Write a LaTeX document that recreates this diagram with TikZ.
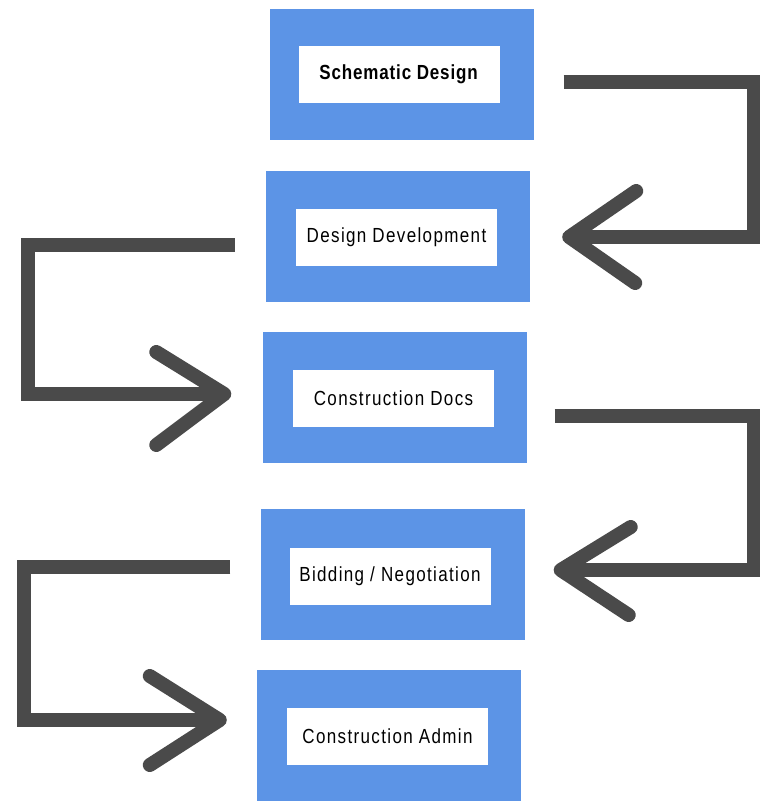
\documentclass[tikz,border=0pt]{standalone}
\usepackage{fontspec}
\setmainfont{Liberation Sans}
\usetikzlibrary{calc}
\definecolor{boxblue}{RGB}{92,148,230}
\definecolor{arrowgray}{RGB}{74,74,74}
\newcommand{\spaced}{\addfontfeatures{LetterSpace=8}}
\newcommand{\spacedb}{\addfontfeatures{LetterSpace=5}}
\begin{document}
\begin{tikzpicture}[x=1pt,y=-1pt,
  outerbox/.style={fill=boxblue,draw=none,minimum width=264pt,minimum height=131pt,inner sep=0pt},
  innerbox/.style={fill=white,draw=none,minimum width=201pt,minimum height=57pt,inner sep=0pt,
    font=\fontsize{17}{20}\selectfont},
  flowline/.style={draw=arrowgray,line width=14pt,line join=miter},
  chevron/.style={draw=arrowgray,line width=14pt,line cap=round,line join=round}]
\fill[white] (0,0) rectangle (760,801);
\useasboundingbox (0,0) rectangle (760,801);
% boxes
\node[outerbox] (o1) at (401.5,74) {};
\node[innerbox] (b1) at (399,74) {\scalebox{1}[1.2]{\spacedb\textbf{Schematic Design}}};
\node[outerbox] (o2) at (398,236) {};
\node[innerbox] (b2) at (396.5,237.5) {\scalebox{1}[1.2]{\spaced Design Development}};
\node[outerbox] (o3) at (394.5,397.5) {};
\node[innerbox] (b3) at (393.5,398.5) {\scalebox{1}[1.2]{\spaced Construction Docs}};
\node[outerbox] (o4) at (392.5,574) {};
\node[innerbox] (b4) at (390,576) {\scalebox{1}[1.2]{\spaced Bidding / Negotiation}};
\node[outerbox] (o5) at (389,735) {};
\node[innerbox] (b5) at (387.5,736.5) {\scalebox{1}[1.2]{\spaced Construction Admin}};
% connector end points
\coordinate (s1) at ($(o1.east)+(30,8)$);
\coordinate (t1) at ($(o2.east)+(39,1)$);
\coordinate (s2) at ($(o2.west)+(-31,9)$);
\coordinate (t2) at ($(o3.west)+(-38,-3.5)$);
\coordinate (s3) at ($(o3.east)+(28,18.5)$);
\coordinate (t3) at ($(o4.east)+(36,-4)$);
\coordinate (s4) at ($(o4.west)+(-30,-7)$);
\coordinate (t4) at ($(o5.west)+(-37,-15)$);
% arrow 1
\draw[flowline] (s1) -- (754,82) -- (754,237) -- (t1);
\draw[chevron] ($(t1)+(67,-46)$) -- (t1) -- ($(t1)+(66,46)$);
% arrow 2
\draw[flowline] (s2) -- (28,245) -- (28,394) -- (t2);
\draw[chevron] ($(t2)+(-68,-42)$) -- (t2) -- ($(t2)+(-68,51)$);
% arrow 3
\draw[flowline] (s3) -- (754,416) -- (754,570) -- (t3);
\draw[chevron] ($(t3)+(70,-43)$) -- (t3) -- ($(t3)+(68,45)$);
% arrow 4
\draw[flowline] (s4) -- (24,567) -- (24,720) -- (t4);
\draw[chevron] ($(t4)+(-70,-44)$) -- (t4) -- ($(t4)+(-70,45)$);
\end{tikzpicture}
\end{document}
